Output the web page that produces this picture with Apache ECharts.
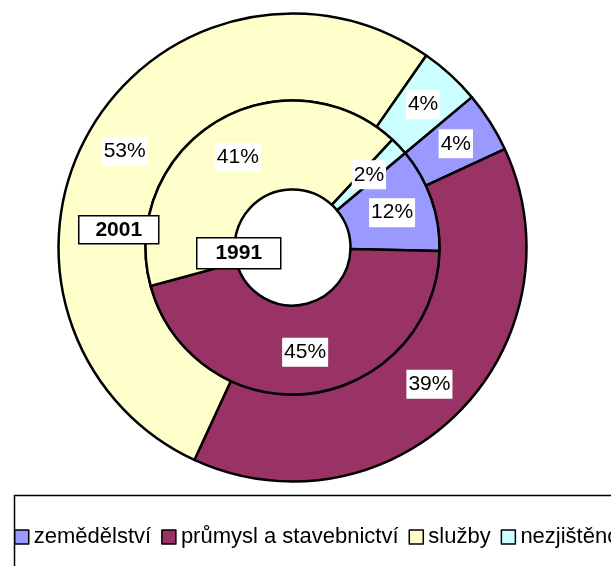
<!DOCTYPE html>
<html>
<head>
<meta charset="utf-8">
<script src="https://cdn.jsdelivr.net/npm/echarts@6/dist/echarts.min.js"></script>
<style>
  html, body { margin: 0; padding: 0; background: #fff; }
  #chart { width: 611px; height: 566px; }
</style>
</head>
<body>
<div id="chart"></div>
<script>
const categories = ["zemědělství", "průmysl a stavebnictví", "služby", "nezjištěno"];
const colors = ["#9999ff", "#993366", "#ffffcc", "#ccffff"];
const values2001 = [4.2, 38.8, 52.8, 4.2];
const values1991 = [11.5, 45.4, 41.1, 2.0];
const yearLabels = ["2001", "1991"];

const font = 'Arial, "Liberation Sans", sans-serif';
const center = [292.5, 247.5];

const pctLabel = {
  show: true,
  position: "inside",
  formatter: (p) => Math.round(p.percent) + "%",
  color: "#000",
  fontFamily: font,
  fontSize: 21,
  lineHeight: 23,
  backgroundColor: "#fff",
  padding: [3, 2, 3, 2]
};

const toData = (vals) => vals.map((v, i) => ({
  name: categories[i],
  value: v,
  itemStyle: { color: colors[i] }
}));

const ringSeries = (name, vals, radius) => ({
  name,
  type: "pie",
  center,
  radius,
  startAngle: 40,
  clockwise: true,
  avoidLabelOverlap: false,
  silent: true,
  data: toData(vals),
  itemStyle: { borderColor: "#000", borderWidth: 2.5 },
  label: pctLabel,
  labelLine: { show: false },
  emphasis: { disabled: true }
});

// white framed year tag drawn above the rings
const yearBox = (text, x, y, w, h) => ({
  type: "group",
  left: x,
  top: y,
  z: 100,
  children: [
    { type: "rect", z: 100, shape: { x: 0, y: 0, width: w, height: h }, style: { fill: "#fff", stroke: "#000", lineWidth: 1.5 } },
    { type: "text", z: 101, x: w / 2, y: h / 2, style: { text, font: "bold 21px " + font, fill: "#000", align: "center", verticalAlign: "middle" } }
  ]
});

const chart = echarts.init(document.getElementById("chart"));
chart.setOption({
  animation: false,
  backgroundColor: "#fff",
  legend: {
    data: categories,
    left: 14,
    top: 521,
    width: 1000,
    padding: [5, 5, 5, 0],
    icon: "rect",
    itemWidth: 14,
    itemHeight: 14,
    itemGap: 10,
    selectedMode: false,
    itemStyle: { borderColor: "#000", borderWidth: 1.5 },
    textStyle: { fontFamily: font, fontSize: 22, color: "#000" }
  },
  graphic: [
    {
      type: "rect",
      left: 12,
      top: 493,
      shape: { x: 0, y: 0, width: 700, height: 120 },
      style: { fill: "none", stroke: "#000", lineWidth: 1.5 }
    },
    yearBox(yearLabels[0], 78, 215, 80, 28),
    yearBox(yearLabels[1], 196, 237, 84, 31)
  ],
  series: [
    ringSeries(yearLabels[0], values2001, [147, 234]),
    ringSeries(yearLabels[1], values1991, [58, 147])
  ]
});
</script>
</body>
</html>
